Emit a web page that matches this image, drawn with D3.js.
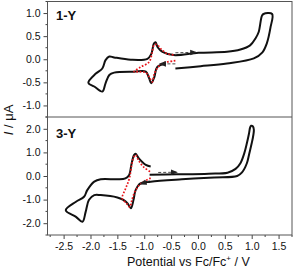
<!DOCTYPE html>
<html lang="en">
<head>
  <meta charset="UTF-8">
  <title>CV 1-Y / 3-Y</title>
  <style>
    html, body { margin: 0; padding: 0; background: #fff; }
    svg { display: block; }
  </style>
</head>
<body>
  <svg id="svg" width="294" height="274" font-family="Liberation Sans, Arial, sans-serif"></svg>

  <script src="https://d3js.org/d3.v7.min.js"></script>
  <script>
    // potential (V vs Fc/Fc+), current (uA)
    var xTicks = [-2.5, -2.0, -1.5, -1.0, -0.5, 0.0, 0.5, 1.0, 1.5];
    var topTicks = [-1.0, -0.5, 0.0, 0.5, 1.0];
    var bottomTicks = [-2.0, -1.0, 0.0, 1.0, 2.0];

    // 1-Y full scan
    var topBlack = [
      [-0.6, -0.09], [-0.76, -0.17], [-0.81, -0.38], [-0.87, -0.52], [-0.91, -0.41],
      [-0.97, -0.27], [-1.19, -0.27], [-1.56, -0.29], [-1.65, -0.34], [-1.72, -0.52],
      [-1.78, -0.70], [-1.93, -0.59], [-2.04, -0.51], [-1.90, -0.31], [-1.78, -0.20],
      [-1.72, -0.02], [-1.65, 0.06], [-1.56, 0.04], [-1.25, -0.01], [-0.94, 0.01],
      [-0.87, 0.11], [-0.82, 0.34], [-0.79, 0.37], [-0.75, 0.26], [-0.66, 0.16],
      [-0.45, 0.09], [0.01, 0.14], [0.54, 0.16], [0.79, 0.21], [0.97, 0.30],
      [1.07, 0.45], [1.13, 0.59], [1.19, 0.94], [1.22, 0.98], [1.38, 0.98],
      [1.35, 0.69], [1.28, 0.34], [1.2, 0.15], [1.04, 0.02], [0.54, -0.09],
      [0.05, -0.15], [-0.42, -0.20]
    ];
    // 1-Y narrow scan
    var topRed = [
      [-0.42, -0.03], [-0.66, -0.09], [-0.76, -0.20], [-0.82, -0.34], [-0.85, -0.49],
      [-0.91, -0.38], [-0.97, -0.29], [-1.1, -0.27], [-1.19, -0.27], [-1.07, -0.17],
      [-0.91, -0.06], [-0.85, 0.16], [-0.82, 0.30], [-0.77, 0.32], [-0.66, 0.19],
      [-0.57, 0.12], [-0.42, 0.09]
    ];
    // 3-Y full scan
    var bottomBlack = [
      [-0.9, 0.05], [-0.4, 0.07], [0.2, 0.1], [0.55, 0.14], [0.7, 0.3],
      [0.79, 0.54], [0.86, 0.95], [0.91, 1.39], [0.95, 1.8], [0.97, 2.05],
      [0.99, 2.13], [1.02, 2.11], [1.04, 1.96], [1.02, 1.6], [1.0, 1.39],
      [0.95, 0.9], [0.91, 0.54], [0.82, 0.15], [0.73, 0.0], [0.3, -0.06],
      [-0.3, -0.14], [-0.88, -0.24], [-1.07, -0.31], [-1.16, -0.60], [-1.2, -1.02],
      [-1.25, -1.37], [-1.31, -1.16], [-1.38, -1.02], [-1.5, -0.91], [-1.81, -0.81],
      [-1.93, -0.81], [-2.03, -1.02], [-2.09, -1.52], [-2.15, -1.94], [-2.27, -1.73],
      [-2.46, -1.45], [-2.27, -1.09], [-2.12, -0.88], [-2.06, -0.6], [-1.93, -0.24],
      [-1.81, -0.14], [-1.5, -0.14], [-1.35, -0.10], [-1.28, 0.04], [-1.24, 0.47],
      [-1.19, 0.89], [-1.16, 0.94], [-1.10, 0.75], [-0.97, 0.47], [-0.88, 0.40]
    ];
    // 3-Y narrow scan
    var bottomRed = [
      [-0.88, -0.09], [-1.05, -0.30], [-1.16, -0.60], [-1.23, -1.02], [-1.27, -1.31],
      [-1.33, -1.16], [-1.41, -0.95], [-1.35, -0.55], [-1.28, -0.13], [-1.22, 0.61],
      [-1.19, 0.82], [-1.16, 0.89], [-1.10, 0.64], [-1.01, 0.38], [-0.88, 0.17]
    ];
    // scan direction arrows [from, to]
    var topArrows = [[[-0.42, 0.14], [-0.04, 0.15]], [[-0.42, -0.1], [-0.7, -0.1]]];
    var bottomArrows = [[[-0.74, 0.15], [-0.4, 0.16]], [[-0.9, -0.2], [-1.06, -0.34]]];

    var svg = d3.select("svg");
    var plotLeft = 47.5, plotRight = 292, plotTop = 1.5, plotMid = 117, plotBottom = 235;

    var x = d3.scaleLinear().domain([-2.8, 1.75]).range([plotLeft, plotRight]);
    var yTop = d3.scaleLinear().domain([-1.25, 1.25]).range([plotMid, plotTop]);
    var yBottom = d3.scaleLinear().domain([-2.5, 2.5]).range([plotBottom, plotMid]);

    var fmt = function (d) { return d.toFixed(1); };

    svg.append("defs").append("marker")
      .attr("id", "head")
      .attr("viewBox", "0 0 10 10")
      .attr("refX", 8).attr("refY", 5)
      .attr("markerWidth", 7).attr("markerHeight", 7)
      .attr("markerUnits", "userSpaceOnUse")
      .attr("orient", "auto")
      .append("path")
      .attr("d", "M0,1L10,5L0,9Z")
      .attr("fill", "#222");

    function panel(y, ticks, minorStep, black, red, arrows, label, labelY) {
      var g = svg.append("g");

      // minor ticks
      var yd = y.domain();
      var minors = d3.range(Math.ceil(yd[0] / minorStep) * minorStep, yd[1] + 1e-9, minorStep)
        .filter(function (v) { return ticks.indexOf(+v.toFixed(2)) < 0; });
      g.selectAll(".minor").data(minors).enter().append("line")
        .attr("x1", plotLeft - 2).attr("x2", plotLeft)
        .attr("y1", y).attr("y2", y)
        .attr("stroke", "#444");

      var ax = g.append("g")
        .attr("transform", "translate(" + plotLeft + ",0)")
        .call(d3.axisLeft(y).tickValues(ticks).tickFormat(fmt).tickSize(4).tickPadding(3));
      ax.select(".domain").remove();
      ax.selectAll("line").attr("stroke", "#444");
      ax.selectAll("text").attr("font-size", 10.5).attr("fill", "#111");

      var line = d3.line()
        .x(function (d) { return x(d[0]); })
        .y(function (d) { return y(d[1]); })
        .curve(d3.curveCatmullRom.alpha(0.5));

      g.append("path")
        .datum(black)
        .attr("d", line)
        .attr("fill", "none")
        .attr("stroke", "#111")
        .attr("stroke-width", 2)
        .attr("stroke-linejoin", "round");

      g.append("path")
        .datum(red)
        .attr("d", line)
        .attr("fill", "none")
        .attr("stroke", "#e8141a")
        .attr("stroke-width", 1.7)
        .attr("stroke-dasharray", "1.7 1.7");

      g.selectAll(".arrow").data(arrows).enter().append("line")
        .attr("x1", function (d) { return x(d[0][0]); })
        .attr("y1", function (d) { return y(d[0][1]); })
        .attr("x2", function (d) { return x(d[1][0]); })
        .attr("y2", function (d) { return y(d[1][1]); })
        .attr("stroke", "#333")
        .attr("stroke-width", 0.9)
        .attr("stroke-dasharray", "3 2")
        .attr("marker-end", "url(#head)");

      g.append("text")
        .attr("x", 56).attr("y", labelY)
        .attr("font-size", 13).attr("font-weight", "bold")
        .attr("fill", "#111")
        .text(label);
    }

    panel(yTop, topTicks, 0.25, topBlack, topRed, topArrows, "1-Y", 20);
    panel(yBottom, bottomTicks, 0.5, bottomBlack, bottomRed, bottomArrows, "3-Y", 138);

    // x axis
    var xMinor = d3.range(-2.75, 1.76, 0.25)
      .filter(function (v) { return xTicks.indexOf(+v.toFixed(2)) < 0; });
    svg.selectAll(".xminor").data(xMinor).enter().append("line")
      .attr("x1", x).attr("x2", x)
      .attr("y1", plotBottom).attr("y2", plotBottom + 2)
      .attr("stroke", "#444");

    var xa = svg.append("g")
      .attr("transform", "translate(0," + plotBottom + ")")
      .call(d3.axisBottom(x).tickValues(xTicks).tickFormat(fmt).tickSize(4).tickPadding(4));
    xa.select(".domain").remove();
    xa.selectAll("line").attr("stroke", "#444");
    xa.selectAll("text").attr("font-size", 10.5).attr("fill", "#111");

    // frames
    svg.append("rect")
      .attr("x", plotLeft).attr("y", plotTop)
      .attr("width", plotRight - plotLeft).attr("height", plotBottom - plotTop)
      .attr("fill", "none").attr("stroke", "#555");
    svg.append("line")
      .attr("x1", plotLeft).attr("x2", plotRight)
      .attr("y1", plotMid).attr("y2", plotMid)
      .attr("stroke", "#555");

    // axis titles
    var xt = svg.append("text")
      .attr("x", 127).attr("y", 266)
      .attr("font-size", 12.5).attr("fill", "#111");
    xt.append("tspan").text("Potential vs Fc/Fc");
    xt.append("tspan").attr("font-size", 8).attr("dy", -5).text("+");
    xt.append("tspan").attr("dy", 5).text(" / V");

    var yt = svg.append("text")
      .attr("transform", "translate(13,120) rotate(-90)")
      .attr("text-anchor", "middle")
      .attr("font-size", 13).attr("fill", "#111");
    yt.append("tspan").attr("font-style", "italic").text("I");
    yt.append("tspan").text(" / μA");
  </script>
</body>
</html>
